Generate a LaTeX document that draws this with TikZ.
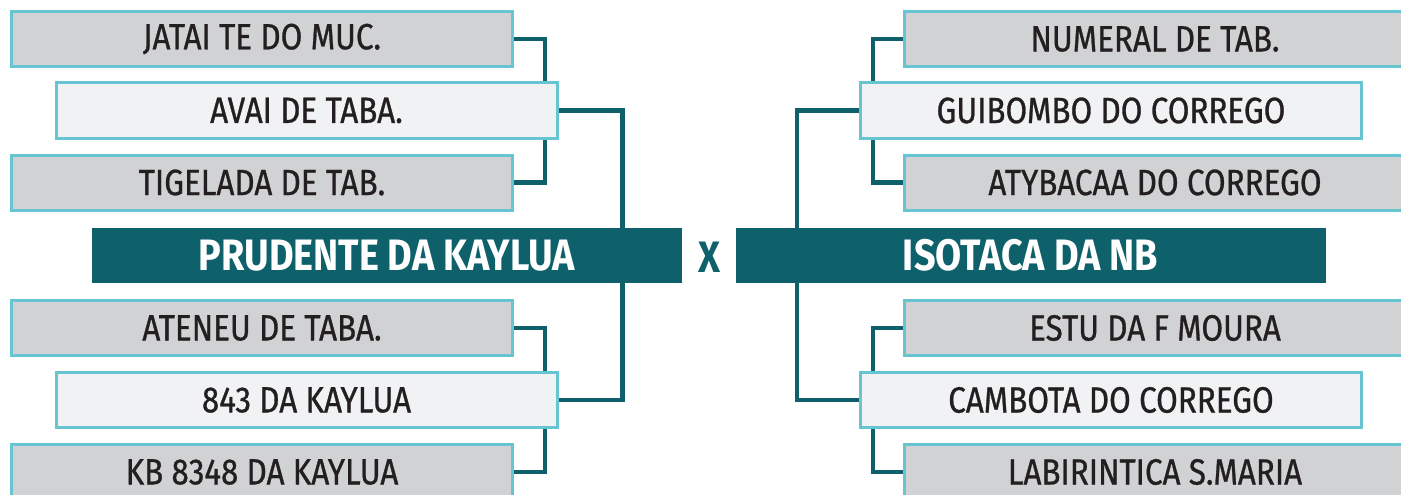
\documentclass[tikz,border=0pt]{standalone}
\usepackage{fontspec}
\setmainfont[FakeStretch=0.86]{Fira Sans}
\newfontfamily\medfont[FakeStretch=0.86,FakeBold=0.8]{Fira Sans}
\usetikzlibrary{backgrounds}
\definecolor{teal1}{HTML}{0E606A}
\definecolor{cyanb}{HTML}{66C5D1}
\definecolor{grayf}{HTML}{D1D2D4}
\definecolor{lightf}{HTML}{F1F2F4}
\definecolor{txt}{HTML}{231F20}
\tikzset{
  team/.style={draw=cyanb, line width=3pt, minimum width=501pt, minimum height=55pt,
    inner sep=0pt, text=txt, font=\medfont\fontsize{36.5}{36.5}\selectfont},
  grayteam/.style={team, fill=grayf},
  lightteam/.style={team, fill=lightf},
  mainteam/.style={fill=teal1, minimum width=590pt, minimum height=55pt, inner sep=0pt,
    text=white, font=\fontsize{44}{44}\selectfont\bfseries},
  conn/.style={draw=teal1, line width=4.5pt}
}
\begin{document}
\begin{tikzpicture}[x=1pt,y=-1pt]
\useasboundingbox (0,0) rectangle (1401,495);
\clip (0,0) rectangle (1401,495);
% left side
\node[grayteam] (jat) at (262,39) {JATAI TE DO MUC.};
\node[lightteam] (ava) at (306.5,110.5) {AVAI DE TABA.};
\node[grayteam] (tig) at (262,182.5) {TIGELADA DE TAB.};
\node[mainteam] (pru) at (387,255.5) {PRUDENTE DA KAYLUA};
\node[grayteam] (ate) at (262,328) {ATENEU DE TABA.};
\node[lightteam] (kay) at (306.5,400) {843 DA KAYLUA};
\node[grayteam] (kb) at (262,472) {KB 8348 DA KAYLUA};
% right side
\node[grayteam] (num) at (1155,39) {NUMERAL DE TAB.};
\node[lightteam] (gui) at (1111,110.5) {GUIBOMBO DO CORREGO};
\node[grayteam] (aty) at (1155,182.5) {ATYBACAA DO CORREGO};
\node[mainteam] (iso) at (1030.5,255.5) {ISOTACA DA NB};
\node[grayteam] (est) at (1155,328) {ESTU DA F MOURA};
\node[lightteam] (cam) at (1111,400) {CAMBOTA DO CORREGO};
\node[grayteam] (lab) at (1155,472) {LABIRINTICA S.MARIA};
% versus
\node[text=teal1, font=\fontsize{44}{44}\selectfont\bfseries, inner sep=0pt] (vs) at (709,257) {X};
\begin{pgfonlayer}{background}
\draw[conn] (jat.east) -- ++(31,0) |- (tig.east);
\draw[conn] (ava.east) -- ++(64,0) |- (kay.east);
\draw[conn] (ate.east) -- ++(31,0) |- (kb.east);
\draw[conn] (num.west) -- ++(-30,0) |- (aty.west);
\draw[conn] (gui.west) -- ++(-62,0) |- (cam.west);
\draw[conn] (est.west) -- ++(-30,0) |- (lab.west);
\end{pgfonlayer}
\end{tikzpicture}
\end{document}
